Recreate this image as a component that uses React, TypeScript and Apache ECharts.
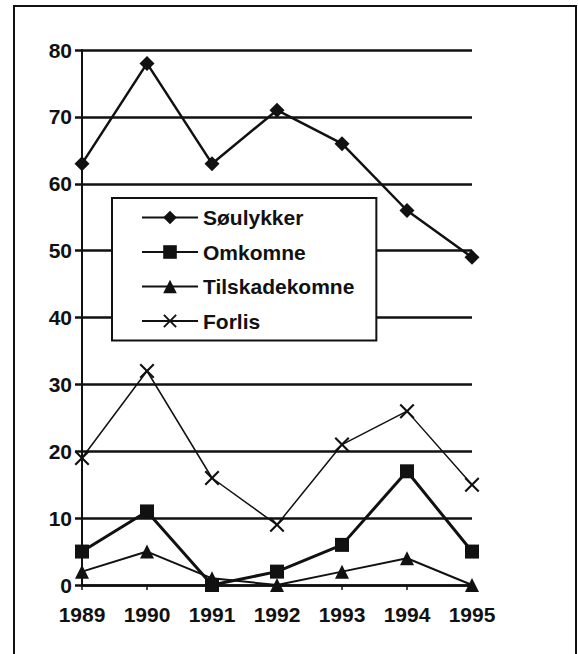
import React, { useEffect, useRef } from "react";
import * as echarts from "echarts";

const years = ["1989", "1990", "1991", "1992", "1993", "1994", "1995"];
const soulykker = [63, 78, 63, 71, 66, 56, 49];
const omkomne = [5, 11, 0, 2, 6, 17, 5];
const tilskadekomne = [2, 5, 1, 0, 2, 4, 0];
const forlis = [19, 32, 16, 9, 21, 26, 15];
const seriesNames = ["Søulykker", "Omkomne", "Tilskadekomne", "Forlis"];

const crossPath =
  "path://M0,1 L1,0 L5,4 L9,0 L10,1 L6,5 L10,9 L9,10 L5,6 L1,10 L0,9 L4,5 Z";

export default function App() {
  const ref = useRef<HTMLDivElement>(null);
  useEffect(() => {
    if (!ref.current) return;
    const chart = echarts.init(ref.current, null, { renderer: "svg" });
    const font = "'Liberation Sans', Arial, sans-serif";
    chart.setOption({
      animation: false,
      backgroundColor: "#fff",
      graphic: [
        {
          type: "rect",
          z: -1,
          shape: { x: 14, y: 6, width: 562, height: 700 },
          style: { fill: "none", stroke: "#111", lineWidth: 2 },
        },
      ],
      grid: { left: 82, right: 106, top: 50, bottom: 69 },
      legend: {
        data: seriesNames,
        orient: "vertical",
        left: 112,
        top: 198,
        width: 268,
        padding: [9, 22, 9, 29],
        itemWidth: 56,
        itemHeight: 17,
        itemGap: 13.5,
        backgroundColor: "#fff",
        borderColor: "#111",
        borderWidth: 2,
        borderRadius: 0,
        selectedMode: false,
        lineStyle: { width: 2 },
        textStyle: {
          fontFamily: font,
          fontWeight: "bold",
          fontSize: 21,
          lineHeight: 21,
          color: "#111",
        },
      },
      xAxis: {
        type: "category",
        data: years,
        boundaryGap: false,
        axisLine: { lineStyle: { color: "#111", width: 2.5 } },
        axisTick: { show: true, length: 5, lineStyle: { color: "#111", width: 1.5 } },
        axisLabel: {
          margin: 19,
          fontFamily: font,
          fontWeight: "bold",
          fontSize: 21,
          color: "#111",
        },
      },
      yAxis: {
        type: "value",
        min: 0,
        max: 80,
        interval: 10,
        axisLine: { show: true, lineStyle: { color: "#111", width: 2 } },
        axisTick: { show: true, length: 7, lineStyle: { color: "#111", width: 2.5 } },
        splitLine: { show: true, lineStyle: { color: "#111", width: 2.5 } },
        axisLabel: {
          margin: 10,
          fontFamily: font,
          fontWeight: "bold",
          fontSize: 21,
          color: "#111",
        },
      },
      series: [
        {
          name: seriesNames[0],
          type: "line",
          data: soulykker,
          symbol: "diamond",
          symbolSize: 15,
          lineStyle: { color: "#111", width: 2.5 },
          itemStyle: { color: "#111" },
        },
        {
          name: seriesNames[1],
          type: "line",
          data: omkomne,
          symbol: "rect",
          symbolSize: 14,
          lineStyle: { color: "#111", width: 3 },
          itemStyle: { color: "#111" },
        },
        {
          name: seriesNames[2],
          type: "line",
          data: tilskadekomne,
          symbol: "triangle",
          symbolSize: 14,
          lineStyle: { color: "#111", width: 2 },
          itemStyle: { color: "#111" },
        },
        {
          name: seriesNames[3],
          type: "line",
          data: forlis,
          symbol: crossPath,
          symbolSize: 15,
          lineStyle: { color: "#111", width: 1.5 },
          itemStyle: { color: "#111" },
        },
      ],
    });
    return () => chart.dispose();
  }, []);
  return (
    <div
      ref={ref}
      style={{ position: "absolute", left: 0, top: 0, width: 578, height: 654, background: "#fff" }}
    />
  );
}
